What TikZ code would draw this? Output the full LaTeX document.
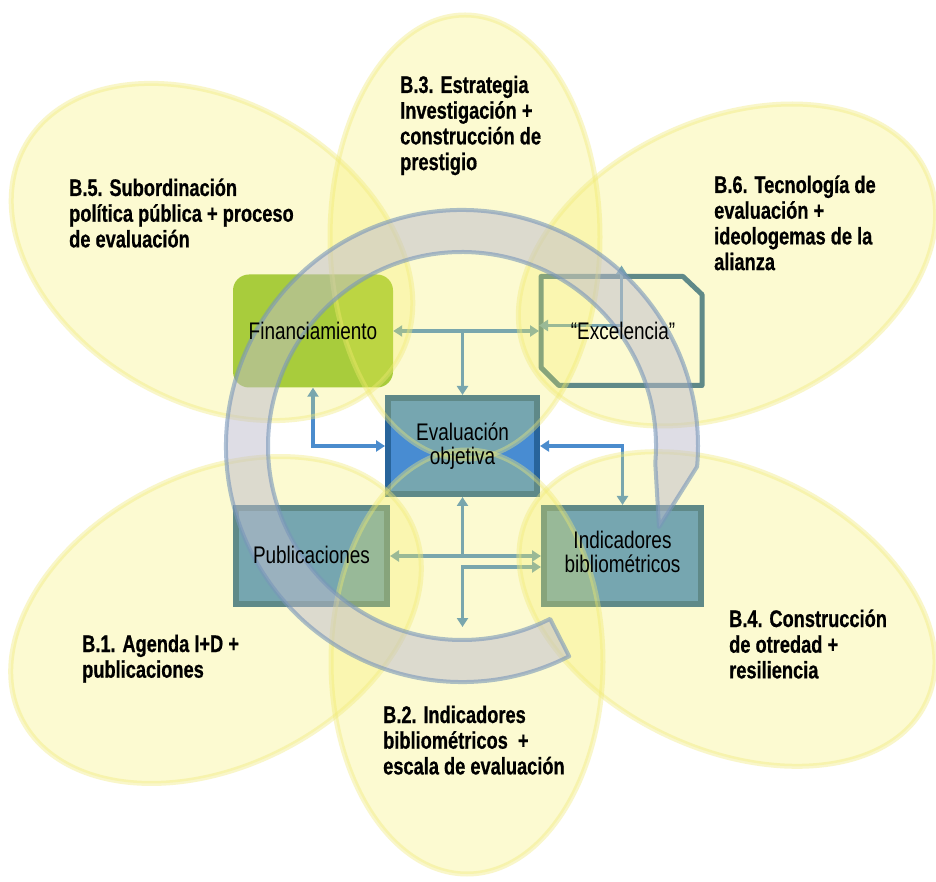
\documentclass[tikz,border=0pt]{standalone}
\usepackage{fontspec}
\usepackage{tikz}
\usetikzlibrary{positioning,calc,arrows.meta}
\newfontfamily\petalfont{Liberation Sans}[FakeStretch=0.76,FakeBold=0.6]
\newfontfamily\boxfont{Liberation Sans}[FakeStretch=0.79]
\definecolor{petalfill}{RGB}{245,238,88}
\definecolor{petaledge}{RGB}{240,234,120}
\definecolor{ringfill}{RGB}{190,188,205}
\definecolor{ringedge}{RGB}{120,150,185}
\definecolor{boxblue}{RGB}{72,140,210}
\definecolor{boxedge}{RGB}{40,100,155}
\definecolor{fingreen}{RGB}{140,192,50}
\definecolor{linkblue}{RGB}{75,140,205}

\begin{document}
\begin{tikzpicture}[x=1pt,y=1pt,
    petal/.style={fill=petalfill, fill opacity=0.27, draw=petaledge, draw opacity=0.4, line width=5pt},
    bluebox/.style={draw=boxedge, fill=boxblue, line width=6pt, minimum height=96pt},
    link/.style={draw=linkblue, line width=3.5pt},
    boxtext/.style={font={\boxfont\fontsize{24}{24.5}\selectfont}, align=center, inner sep=0pt},
    petaltext/.style={font={\petalfont\bfseries\fontsize{24}{25.7}\selectfont}, align=left, anchor=base west, inner sep=0pt},
    >={Triangle[length=9pt,width=11pt]}]
    \useasboundingbox (0,0) rectangle (936,881);
    \fill[white] (0,0) rectangle (936,881);

    % boxes
    \node[fill=fingreen, rounded corners=16pt, minimum width=160pt, minimum height=113pt] (fin) at (313,550) {};
    \node[minimum width=161pt, minimum height=109pt, outer sep=0pt] (exc) at (621.5,550) {};
    \node[bluebox, minimum width=149pt] (eva) at (462.5,435) {};
    \node[bluebox, minimum width=151pt] (pub) at (311.5,325) {};
    \node[bluebox, minimum width=157pt] (ind) at (622.5,325) {};
    \draw[boxedge, line width=5pt, line join=round] (exc.north west) -- ([xshift=-19pt]exc.north east)
        -- ([yshift=-18pt]exc.north east) -- (exc.south east) -- ([xshift=18pt]exc.south west)
        -- ([yshift=18pt]exc.south west) -- cycle;

    % connectors
    \coordinate (drop) at (462.5,254);
    \draw[link,<->] (fin.east) -- ([xshift=-2pt]exc.west);
    \draw[link,->] (fin.east -| eva.north) -- (eva.north);
    \draw[link,<->] (fin.south) |- (eva.west);
    \draw[link,<->] (eva.east) -| (ind.north);
    \draw[link,<->] (pub.east) -- (ind.west);
    \draw[link,->] (pub.east -| eva.south) -- (eva.south);
    \draw[link,<->] (drop) |- ([yshift=-11pt]ind.west);
    \draw[link,<->] ([yshift=11pt]exc.north) |- ([xshift=-2pt,yshift=5.5pt]exc.west);

    % petals
    \draw[petal] (465,644) ellipse [x radius=135, y radius=222];
    \draw[petal] (467,219) ellipse [x radius=136, y radius=212];
    \draw[petal, rotate around={-30:(212,629)}] (212,629) ellipse [x radius=215, y radius=150];
    \draw[petal, rotate around={25:(727,616)}] (727,616) ellipse [x radius=220, y radius=145];
    \draw[petal, rotate around={27:(216,261)}] (216,261) ellipse [x radius=218, y radius=146];
    \draw[petal, rotate around={-25:(727,272)}] (727,272) ellipse [x radius=220, y radius=140];

    % ring arrow
    \coordinate (hub) at (462,435);
    \draw[fill=ringfill, fill opacity=0.5, draw=ringedge, draw opacity=0.6, line width=4pt, line join=round]
        ($(hub)+(-63:236)$) arc[start angle=-63, end angle=-365, radius=236]
        -- (659,354) -- ($(hub)+(-5:194)$) arc[start angle=-365, end angle=-63, radius=194] -- cycle;

    % box labels
    \node[boxtext] (fin-t) at (fin) {Financiamiento};
    \node[boxtext] (exc-t) at (623,550.5) {“Excelencia”};
    \node[boxtext] (eva-t) at (eva) {Evaluación\\objetiva};
    \node[boxtext] (pub-t) at ([yshift=1.5pt]pub) {Publicaciones};
    \node[boxtext] (ind-t) at ([yshift=4pt]ind) {Indicadores\\bibliométricos};

    % petal labels (anchored on the last line)
    \node[petaltext] (b5) at (69,633.6) {B.5. Subordinación\\política pública + proceso\\de evaluación};
    \node[petaltext] (b3) at (400,710.9) {B.3. Estrategia\\Investigación +\\construcción de\\prestigio};
    \node[petaltext] (b6) at (714,610.9) {B.6. Tecnología de\\evaluación +\\ideologemas de la\\alianza};
    \node[petaltext] (b1) at (82,203.3) {B.1. Agenda I+D +\\publicaciones};
    \node[petaltext] (b2) at (383,106.6) {B.2. Indicadores\\bibliométricos~~+\\escala de evaluación};
    \node[petaltext] (b4) at (729,202.6) {B.4. Construcción\\de otredad +\\resiliencia};
\end{tikzpicture}
\end{document}
